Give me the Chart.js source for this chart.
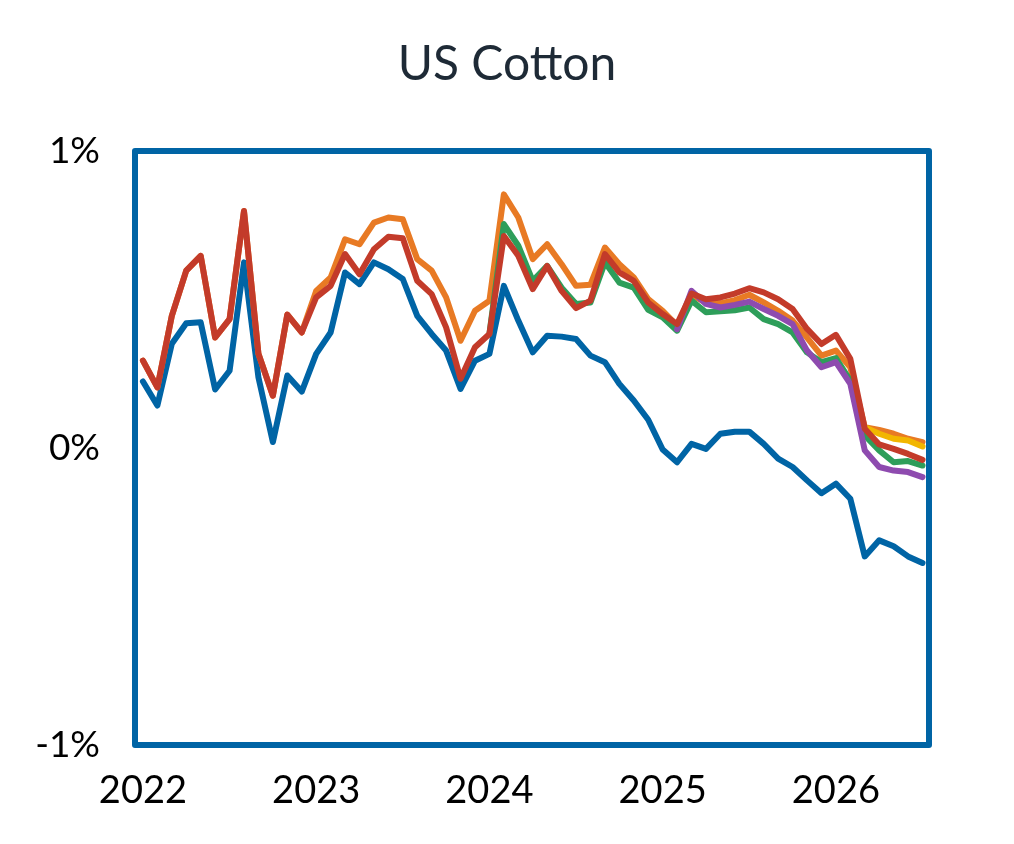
<!DOCTYPE html>
<html>
<head>
<meta charset="utf-8">
<title>US Cotton</title>
<script src="https://cdn.jsdelivr.net/npm/chart.js@4.4.1/dist/chart.umd.min.js"></script>
<style>
  html, body { margin: 0; padding: 0; background: #fff; }
  #wrap { width: 1014px; height: 844px; position: relative; }
</style>
</head>
<body>
<div id="wrap"><canvas id="myChart"></canvas></div>
<script>
// monthly, Jan 2022 .. Jul 2026 (index 0..54)
const months = [];
for (let y = 2022; y <= 2026; y++) {
  for (let m = 1; m <= 12; m++) {
    if (y === 2026 && m > 7) break;
    months.push(y + '-' + String(m).padStart(2, '0'));
  }
}
const yearTicks = [0, 12, 24, 36, 48];
const yearLabels = ['2022', '2023', '2024', '2025', '2026'];
const yTicks = [-1, 0, 1];
const titleText = 'US Cotton';

const blue = [0.224, 0.143, 0.351, 0.42, 0.423, 0.197, 0.26, 0.625, 0.238, 0.02, 0.244, 0.19,
  0.317, 0.389, 0.591, 0.552, 0.625, 0.602, 0.569, 0.445, 0.384, 0.328, 0.199, 0.294,
  0.317, 0.546, 0.429, 0.322, 0.378, 0.375, 0.367, 0.311, 0.289, 0.216, 0.16, 0.095,
  -0.005, -0.048, 0.014, -0.003, 0.048, 0.055, 0.055, 0.014, -0.036, -0.064, -0.109, -0.152,
  -0.12, -0.171, -0.365, -0.311, -0.331, -0.365, -0.387];

const red = [0.294, 0.204, 0.445, 0.597, 0.647, 0.372, 0.434, 0.798, 0.317, 0.176, 0.449, 0.389,
  0.507, 0.546, 0.653, 0.585, 0.669, 0.711, 0.706, 0.563, 0.518, 0.406, 0.233, 0.339,
  0.384, 0.714, 0.647, 0.535, 0.613, 0.529, 0.471, 0.496, 0.653, 0.591, 0.563, 0.49,
  0.451, 0.417, 0.52, 0.501, 0.507, 0.52, 0.538, 0.524, 0.501, 0.468, 0.401, 0.35,
  0.381, 0.30, 0.065, 0.012, -0.003, -0.02, -0.04];

const orange = [0.294, 0.204, 0.445, 0.597, 0.647, 0.372, 0.434, 0.798, 0.317, 0.176, 0.449, 0.389,
  0.529, 0.574, 0.703, 0.686, 0.759, 0.776, 0.770, 0.636, 0.597, 0.507, 0.361, 0.462,
  0.496, 0.854, 0.776, 0.636, 0.686, 0.619, 0.546, 0.55, 0.675, 0.619, 0.574, 0.501,
  0.462, 0.412, 0.515, 0.49, 0.487, 0.498, 0.516, 0.49, 0.462, 0.429, 0.372, 0.311,
  0.328, 0.272, 0.07, 0.061, 0.048, 0.031, 0.02];

const green = [null, null, null, null, null, null, null, null, null, null, null, null,
  null, null, null, null, null, null, null, null, null, null, null, null,
  0.384, 0.754, 0.681, 0.563, 0.613, 0.54, 0.485, 0.49, 0.625, 0.557, 0.54, 0.465,
  0.44, 0.395, 0.496, 0.457, 0.46, 0.464, 0.473, 0.434, 0.417, 0.389, 0.322, 0.289,
  0.303, 0.227, 0.042, -0.008, -0.048, -0.044, -0.059];

const purple = [null, null, null, null, null, null, null, null, null, null, null, null,
  null, null, null, null, null, null, null, null, null, null, null, null,
  null, null, null, null, null, null, null, null, null, null, null, null,
  null, 0.40, 0.529, 0.485, 0.473, 0.482, 0.493, 0.468, 0.445, 0.417, 0.328, 0.272,
  0.289, 0.216, -0.008, -0.064, -0.076, -0.081, -0.098];

const yellow = [null, null, null, null, null, null, null, null, null, null, null, null,
  null, null, null, null, null, null, null, null, null, null, null, null,
  null, null, null, null, null, null, null, null, null, null, null, null,
  null, null, null, null, null, null, null, null, null, null, null, null,
  null, null, 0.07, 0.048, 0.031, 0.025, 0.005];

const FONT = 'Lato, "Open Sans", sans-serif';
const BORDER = '#0064A5';

const toPoints = (arr) => arr.map((v, i) => ({ x: i, y: v }));

const line = (data, color) => ({
  data: toPoints(data),
  borderColor: color,
  backgroundColor: color,
  borderWidth: 6,
  pointRadius: 0,
  tension: 0,
  borderJoinStyle: 'round',
  borderCapStyle: 'round',
  fill: false,
});

// blue frame round the plot area + title centred on the page
const frame = {
  id: 'frame',
  afterDraw(chart) {
    const { ctx, chartArea: a } = chart;
    ctx.save();
    ctx.strokeStyle = BORDER;
    ctx.lineWidth = 6;
    ctx.lineJoin = 'round';
    ctx.strokeRect(a.left, a.top, a.right - a.left, a.bottom - a.top);

    ctx.fillStyle = '#1E2A36';
    ctx.font = '48px ' + FONT;
    ctx.textAlign = 'center';
    ctx.textBaseline = 'middle';
    ctx.fillText(titleText, chart.width / 2, 65);
    ctx.restore();
  }
};

const ctx = document.getElementById('myChart');
new Chart(ctx, {
  type: 'line',
  data: {
    // first dataset is painted last (on top)
    datasets: [
      line(red, '#C33B2A'),
      line(yellow, '#F2B600'),
      line(purple, '#8E4BAF'),
      line(green, '#2E9E5A'),
      line(orange, '#E87A24'),
      line(blue, '#0064A5'),
    ]
  },
  options: {
    responsive: true,
    maintainAspectRatio: false,
    animation: false,
    layout: { padding: { left: 0, right: 85, top: 151, bottom: 0 } },
    plugins: {
      legend: { display: false },
      tooltip: { enabled: false },
      title: { display: false },
    },
    scales: {
      x: {
        type: 'linear',
        min: -0.55,
        max: 54.45,
        grid: { display: false, drawTicks: false },
        border: { display: false },
        afterFit(scale) { scale.height = 99; },
        afterBuildTicks(scale) { scale.ticks = yearTicks.map(v => ({ value: v })); },
        ticks: {
          padding: 23,
          color: '#000',
          font: { family: FONT, size: 38 },
          maxRotation: 0,
          autoSkip: false,
          callback: (v) => yearLabels[yearTicks.indexOf(v)],
        },
      },
      y: {
        min: -1,
        max: 1,
        grid: { display: false, drawTicks: false },
        border: { display: false },
        afterFit(scale) { scale.width = 135; },
        afterBuildTicks(scale) { scale.ticks = yTicks.map(v => ({ value: v })); },
        ticks: {
          padding: 35,
          color: '#000',
          font: { family: FONT, size: 37 },
          callback: (v) => v + '%',
        },
      },
    },
  },
  plugins: [frame],
});
</script>
</body>
</html>
